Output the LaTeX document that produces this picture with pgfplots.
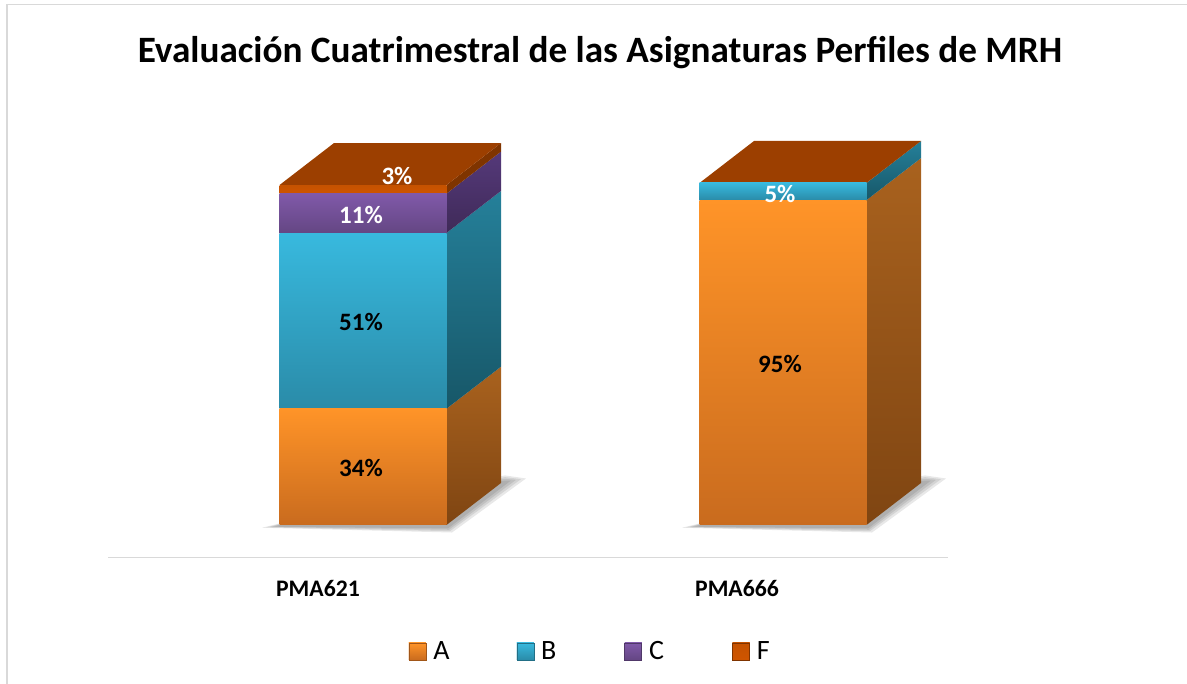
\documentclass[border=0pt]{standalone}
\usepackage{pgfplots}
\pgfplotsset{compat=1.18}
\usepackage{fontspec}
\setmainfont{Carlito}
\definecolor{fA1}{HTML}{FF9428}\definecolor{fA2}{HTML}{C96B1E}
\definecolor{fB1}{HTML}{38B9DE}\definecolor{fB2}{HTML}{2A8BA8}
\definecolor{fC1}{HTML}{8059A9}\definecolor{fC2}{HTML}{644683}
\definecolor{fF1}{HTML}{CF5500}\definecolor{fF2}{HTML}{B54A00}
\definecolor{sA1}{HTML}{A9621E}\definecolor{sA2}{HTML}{7F4512}
\definecolor{sB1}{HTML}{25809A}\definecolor{sB2}{HTML}{175768}
\definecolor{sC1}{HTML}{55397A}\definecolor{sC2}{HTML}{3F2A58}
\definecolor{topF}{HTML}{9C3F00}
\definecolor{edgeF}{HTML}{C55200}
\pgfplotsset{
  base/.style={scale only axis,width=840pt,height=458pt,xmin=108,xmax=948,ymin=-9.649,ymax=124.27,clip=false},
  side/.style n args={2}{no marks,draw=none,forget plot,top color=#1,bottom color=#2},
  shadow/.style={no marks,draw=none,fill=black,fill opacity=0.09,forget plot},
  bev/.style n args={4}{legend image code/.code={
    \fill[#1] (0pt,-8.5pt) rectangle (17pt,8.5pt);
    \fill[#2] (0pt,8.5pt)--(17pt,8.5pt)--(8.5pt,0pt)--cycle;
    \fill[#3] (0pt,-8.5pt)--(17pt,-8.5pt)--(13pt,-4.5pt)--(4pt,-4.5pt)--cycle;
    \draw[#4,line width=0.6pt] (0pt,-8.5pt) rectangle (17pt,8.5pt);
  }},
}
\begin{document}
\begin{tikzpicture}[x=1pt,y=1pt]
\path[use as bounding box] (0,0) rectangle (1187,684);
\draw[black!15,line width=1.6pt] (7,0)--(7,679.5)--(1187,679.5);
\node[font=\bfseries\fontsize{37.2}{42}\selectfont,anchor=center] at (600,631) {Evaluación Cuatrimestral de las Asignaturas Perfiles de MRH};

% depth faces and base shadow
\begin{axis}[base,at={(108pt,126pt)},anchor=south west,axis lines=none]
% shadows
\addplot[shadow] coordinates {(262,-0.8)(452,-2.2)(526,13.6)(505,14.5)(330,4)} --cycle;
\addplot[shadow] coordinates {(266,-0.7)(450,-1.8)(521,13.4)(505,14.0)(330,4)} --cycle;
\addplot[shadow] coordinates {(270,-0.6)(449,-1.4)(516,13.2)(505,13.5)(330,4)} --cycle;
\addplot[shadow] coordinates {(274,-0.5)(448,-1.0)(511,13.0)(505,13.0)(330,4)} --cycle;
\addplot[shadow] coordinates {(682,-0.8)(872,-2.2)(946,13.6)(925,14.5)(750,4)} --cycle;
\addplot[shadow] coordinates {(686,-0.7)(870,-1.8)(941,13.4)(925,14.0)(750,4)} --cycle;
\addplot[shadow] coordinates {(690,-0.6)(869,-1.4)(936,13.2)(925,13.5)(750,4)} --cycle;
\addplot[shadow] coordinates {(694,-0.5)(868,-1.0)(931,13.0)(925,13.0)(750,4)} --cycle;
% PMA621 side faces
\addplot[side={sA1}{sA2}] coordinates {(446.5,0)(501,12.28)(501,46.28)(446.5,34)} --cycle;
\addplot[side={sB1}{sB2}] coordinates {(446.5,34)(501,46.28)(501,97.68)(446.5,85.4)} --cycle;
\addplot[side={sC1}{sC2}] coordinates {(446.5,85.4)(501,97.68)(501,109.18)(446.5,96.9)} --cycle;
\addplot[no marks,draw=none,forget plot,fill=fF2!70!black] coordinates {(446.5,96.9)(501,109.18)(501,111.68)(446.5,99.4)} --cycle;
\addplot[no marks,draw=none,forget plot,fill=topF] coordinates {(279.5,99.4)(334,111.68)(501,111.68)(446.5,99.4)} --cycle;
% PMA666 side faces
\addplot[side={sA1}{sA2}] coordinates {(866.5,0)(921,12.28)(921,107.28)(866.5,95)} --cycle;
\addplot[side={sB1}{sB2}] coordinates {(866.5,95)(921,107.28)(921,112.28)(866.5,100)} --cycle;
\addplot[no marks,draw=none,forget plot,fill=topF] coordinates {(699.5,100)(754,112.28)(921,112.28)(866.5,100)} --cycle;
\end{axis}

% PMA621 stacked front faces, category axis and legend
\begin{axis}[base,at={(108pt,126pt)},anchor=south west,
  ybar stacked,bar width=167pt,
  axis x line*=bottom,axis y line=none,
  x axis line style={draw=black!15,line width=1pt,-},
  xtick={318,737},xticklabels={PMA621,PMA666},
  major tick length=0pt,
  xticklabel style={font=\bfseries\fontsize{23.7}{28}\selectfont,yshift=-18.5pt},
  legend style={at={(0.576,-0.204)},anchor=center,draw=none,fill=none,font=\fontsize{28}{32}\selectfont,
    /tikz/every odd column/.append style={column sep=5pt},
    /tikz/every even column/.append style={column sep=65.3pt}},
  legend columns=4,
  legend cell align=left,
]
\addplot[draw=none,top color=fA1,bottom color=fA2,bev={fA1!85!black}{fA1!60!yellow}{fA2!80!black}{fA2!80!black}] coordinates {(363,34)};
\addplot[draw=none,top color=fB1,bottom color=fB2,bev={fB1!85!black}{fB1!55!white}{fB2!75!black}{fB2!80!black}] coordinates {(363,51.2)};
\addplot[draw=none,top color=fC1,bottom color=fC2,bev={fC2}{fC1!65!white}{fC2!80!black}{fC2!80!black}] coordinates {(363,11.7)};
\addplot[draw=none,top color=edgeF,bottom color=fF1,bev={fF2}{fF1!70!yellow}{fF2!70!black}{fF2!70!black}] coordinates {(363,2.5)};
\legend{\makebox[16pt][l]{A},\makebox[16pt][l]{B},\makebox[16pt][l]{C},\makebox[16pt][l]{F}}
\end{axis}

% PMA666 stacked front faces
\begin{axis}[base,at={(108pt,126pt)},anchor=south west,axis lines=none,
  ybar stacked,bar width=167pt]
\addplot[draw=none,top color=fA1,bottom color=fA2,forget plot] coordinates {(783,95)};
\addplot[draw=none,top color=fB1,bottom color=fB2,forget plot] coordinates {(783,5)};
\end{axis}

% data labels
\begin{axis}[base,at={(108pt,126pt)},anchor=south west,axis lines=none]
\addplot[no marks,draw=none,forget plot,nodes near coords,point meta=explicit symbolic,
  nodes near coords align={center},
  every node near coord/.style={font=\bfseries\fontsize{25}{29}\selectfont,text=black,anchor=center}]
  table[meta=l,row sep=\\] {x y l\\ 361 16.6 34\%\\ 361 59.3 51\%\\ 780 47.1 95\%\\};
\addplot[no marks,draw=none,forget plot,nodes near coords,point meta=explicit symbolic,
  nodes near coords align={center},
  every node near coord/.style={font=\bfseries\fontsize{25}{29}\selectfont,text=white,anchor=center}]
  table[meta=l,row sep=\\] {x y l\\ 361 90.6 11\%\\ 397 102 3\%\\ 780 96.8 5\%\\};
\end{axis}
\end{tikzpicture}
\end{document}
